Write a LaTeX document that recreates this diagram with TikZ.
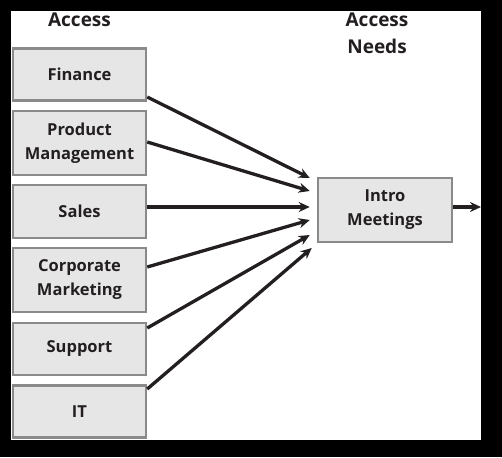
\documentclass[tikz,border=0pt]{standalone}
\usepackage{fontspec}
\setmainfont{Open Sans}
\usepackage{tikz}
\usetikzlibrary{arrows,arrows.meta}

\definecolor{ink}{HTML}{231F20}
\definecolor{boxfill}{HTML}{E6E6E6}
\definecolor{boxline}{HTML}{8A8A8A}

\begin{document}
\begin{tikzpicture}[x=1pt, y=-1pt,
	dept/.style={draw=boxline, line width=2.5pt, fill=boxfill, text=ink,
		minimum width=133pt, align=center, inner sep=0pt,
		font=\bfseries\fontsize{16.5}{24}\selectfont},
	head/.style={text=ink, align=center, font=\bfseries\fontsize{19}{27}\selectfont},
	flow/.style={draw=ink, line width=3.3pt, -{Stealth[length=11pt,width=10pt]}}]
	\useasboundingbox (0,0) rectangle (502,457);
	\fill[black] (0,0) rectangle (502,457);
	\fill[white] (11,11) rectangle (481,440);
	% column heads
	\node[head] (hleft) at (79.5,20) {Access};
	\node[head] (hright) at (377,33) {Access\\Needs};
	% departments
	\node[dept, minimum height=52pt] (fin) at (79.5,74.5) {Finance};
	\node[dept, minimum height=64pt] (pm) at (79.5,143) {Product\\Management};
	\node[dept, minimum height=53pt] (sal) at (79.5,211.5) {Sales};
	\node[dept, minimum height=64pt] (cm) at (79.5,280) {Corporate\\Marketing};
	\node[dept, minimum height=52pt] (sup) at (79.5,349) {Support};
	\node[dept, minimum height=52pt] (it) at (79.5,411.5) {IT};
	% access need
	\node[dept, minimum width=134pt, minimum height=64pt] (intro) at (385,210) {Intro\\Meetings};
	\coordinate (out) at (481,207);
	% arrows
	\draw[flow] ([yshift=-22.5pt]fin.east) -- ([xshift=-7pt,yshift=32pt]intro.west);
	\draw[flow] ([yshift=1pt]pm.east) -- ([xshift=-7pt,yshift=19pt]intro.west);
	\draw[flow, line width=3.8pt] ([yshift=4.5pt]sal.east) -- ([xshift=-7pt,yshift=3pt]intro.west);
	\draw[flow] ([yshift=13pt]cm.east) -- ([xshift=-7pt,yshift=-10pt]intro.west);
	\draw[flow] ([yshift=21pt]sup.east) -- ([xshift=-7pt,yshift=-25pt]intro.west);
	\draw[flow] ([yshift=22.5pt]it.east) -- ([xshift=-5pt,yshift=-38pt]intro.west);
	\draw[flow, line width=3.8pt] ([yshift=3pt]intro.east) -- (out);
\end{tikzpicture}
\end{document}
